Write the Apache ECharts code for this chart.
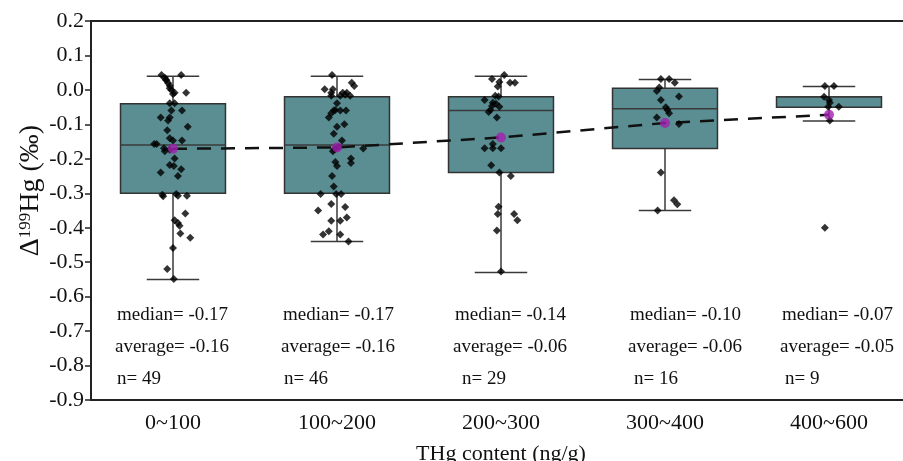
<!DOCTYPE html>
<html>
<head>
<meta charset="utf-8">
<script src="https://cdn.jsdelivr.net/npm/echarts@6/dist/echarts.min.js"></script>
<style>
  html, body { margin: 0; padding: 0; background: #fff; }
  #main { width: 903px; height: 461px; }
</style>
</head>
<body>
<div id="main"></div>
<script>
// THg content classes
const categories = ['0~100', '100~200', '200~300', '300~400', '400~600'];

// box statistics per class
const boxLow = [-0.55, -0.44, -0.53, -0.35, -0.09];
const boxQ1 = [-0.30, -0.30, -0.24, -0.17, -0.05];
const boxMedian = [-0.16, -0.16, -0.06, -0.055, -0.02];
const boxQ3 = [-0.04, -0.02, -0.02, 0.005, -0.02];
const boxHigh = [0.04, 0.04, 0.04, 0.03, 0.01];
const meanValues = [-0.171, -0.167, -0.138, -0.096, -0.072];

// labels under the boxes
const medianText = ['-0.17', '-0.17', '-0.14', '-0.10', '-0.07'];
const averageText = ['-0.16', '-0.16', '-0.06', '-0.06', '-0.05'];
const nText = ['49', '46', '29', '16', '9'];

// samples: [jitter in category units, Δ199Hg]
const samples0 = [[-0.07,0.043],[0.05,0.043],[-0.05,0.035],[-0.04,0.028],[-0.03,0.02],[-0.02,0.012],[-0.02,0.005],[0.01,-0.008],[0.08,-0.008],[0,-0.012],[-0.02,-0.039],[0.01,-0.039],[-0.01,-0.06],[0.055,-0.06],[-0.075,-0.08],[-0.02,-0.08],[-0.03,-0.089],[0.09,-0.107],[-0.035,-0.117],[-0.02,-0.14],[0,-0.147],[0.055,-0.147],[-0.115,-0.157],[-0.1,-0.157],[-0.055,-0.169],[-0.05,-0.178],[-0.02,-0.174],[0.01,-0.199],[-0.02,-0.218],[0.005,-0.221],[0.05,-0.23],[-0.075,-0.24],[0.03,-0.25],[-0.065,-0.304],[-0.06,-0.309],[0.02,-0.302],[0.03,-0.307],[0.085,-0.307],[0.075,-0.359],[0.01,-0.378],[0.03,-0.386],[0.04,-0.394],[0.045,-0.417],[0.105,-0.429],[0,-0.459],[-0.035,-0.52],[0.005,-0.549],[-0.045,0.03],[-0.01,0.0]];
const samples1 = [[-0.03,0.043],[0.09,0.021],[0.105,0.011],[-0.075,0.002],[-0.025,0.002],[-0.035,-0.017],[0.035,-0.008],[0.06,-0.008],[0.05,-0.014],[0.08,-0.017],[0.02,-0.017],[0,-0.039],[0.02,-0.06],[0.055,-0.06],[-0.02,-0.06],[-0.035,-0.068],[-0.05,-0.08],[0.045,-0.1],[0,-0.107],[-0.02,-0.127],[0.03,-0.147],[0.01,-0.166],[-0.015,-0.172],[-0.025,-0.178],[0.16,-0.17],[0.085,-0.199],[0.085,-0.212],[-0.01,-0.209],[0,-0.221],[-0.03,-0.25],[-0.02,-0.28],[-0.1,-0.302],[-0.005,-0.302],[0.025,-0.302],[-0.035,-0.331],[0.05,-0.34],[-0.115,-0.35],[0.06,-0.37],[-0.035,-0.38],[0.02,-0.38],[-0.05,-0.41],[-0.085,-0.42],[0.02,-0.42],[0.07,-0.44],[-0.035,-0.008],[-0.01,-0.058]];
const samples2 = [[0.02,0.043],[-0.055,0.032],[-0.01,0.023],[0.055,0.021],[0.085,0.021],[-0.02,0.01],[-0.035,-0.017],[-0.015,-0.019],[-0.1,-0.029],[-0.05,-0.037],[-0.055,-0.047],[-0.01,-0.049],[-0.065,-0.058],[-0.075,-0.064],[-0.025,-0.08],[-0.05,-0.157],[-0.1,-0.169],[-0.05,-0.169],[0,-0.169],[-0.06,-0.219],[-0.01,-0.24],[0.06,-0.25],[-0.015,-0.339],[-0.02,-0.36],[0.08,-0.36],[0.1,-0.378],[-0.025,-0.408],[0,-0.527],[-0.03,-0.04]];
const samples3 = [[-0.025,0.032],[0.025,0.032],[0.06,0.021],[-0.035,0.007],[-0.05,-0.003],[0.085,-0.019],[-0.025,-0.029],[0.005,-0.05],[0.015,-0.058],[0.025,-0.068],[-0.05,-0.08],[0.085,-0.099],[-0.025,-0.24],[0.055,-0.32],[0.075,-0.332],[-0.045,-0.35]];
const samples4 = [[-0.025,0.011],[0.03,0.011],[-0.03,-0.02],[0,-0.029],[-0.005,-0.049],[0.06,-0.049],[0.005,-0.089],[-0.025,-0.4],[0.005,-0.037]];

const serif = '"Liberation Serif", "DejaVu Serif", serif';

let chart = echarts.init(document.getElementById('main'));

let boxData = categories.map((c, i) => [i, boxLow[i], boxQ1[i], boxMedian[i], boxQ3[i], boxHigh[i]]);

let scatterData = [];
[samples0, samples1, samples2, samples3, samples4].forEach((grp, i) => {
  grp.forEach(p => scatterData.push([i + p[0], p[1]]));
});

function renderBox(params, api) {
  let x = api.value(0);
  let bandW = api.size([1, 0])[0];
  let boxW = bandW * 0.64;
  let capW = boxW * 0.5;
  let pLow = api.coord([x, api.value(1)]);
  let pQ1 = api.coord([x, api.value(2)]);
  let pMed = api.coord([x, api.value(3)]);
  let pQ3 = api.coord([x, api.value(4)]);
  let pHigh = api.coord([x, api.value(5)]);
  let cx = pMed[0];
  let lineStyle = { stroke: '#3a3a3a', lineWidth: 1.5 };
  return {
    type: 'group',
    children: [
      { type: 'line', shape: { x1: cx, y1: pLow[1], x2: cx, y2: pHigh[1] }, style: lineStyle },
      { type: 'line', shape: { x1: cx - capW / 2, y1: pLow[1], x2: cx + capW / 2, y2: pLow[1] }, style: lineStyle },
      { type: 'line', shape: { x1: cx - capW / 2, y1: pHigh[1], x2: cx + capW / 2, y2: pHigh[1] }, style: lineStyle },
      { type: 'rect', shape: { x: cx - boxW / 2, y: pQ3[1], width: boxW, height: pQ1[1] - pQ3[1] },
        style: { fill: '#5a8e93', stroke: '#333', lineWidth: 1.5 } },
      { type: 'line', shape: { x1: cx - boxW / 2, y1: pMed[1], x2: cx + boxW / 2, y2: pMed[1] }, style: lineStyle }
    ]
  };
}

// annotation layout
const colX = [117, 283, 455, 630, 782];
const nX = [117, 284, 462, 634, 785];
const rowY = [313, 345, 377];
let texts = [];
categories.forEach((c, i) => {
  texts.push({ type: 'text', left: colX[i], top: rowY[0] - 7, style: { text: 'median= ' + medianText[i], font: '19px ' + serif, fill: '#111' } });
  texts.push({ type: 'text', left: colX[i] - 2, top: rowY[1] - 7, style: { text: 'average= ' + averageText[i], font: '19px ' + serif, fill: '#111' } });
  texts.push({ type: 'text', left: nX[i], top: rowY[2] - 7, style: { text: 'n= ' + nText[i], font: '19px ' + serif, fill: '#111' } });
});

let option = {
  animation: false,
  backgroundColor: '#fff',
  grid: {
    left: 91, top: 21, width: 820, height: 379,
    outerBoundsMode: 'none',
    containLabel: false,
    show: true, borderColor: '#222', borderWidth: 2
  },
  xAxis: [
    {
      type: 'category',
      data: categories,
      position: 'bottom',
      name: 'THg content (ng/g)',
      nameLocation: 'middle',
      nameGap: 43,
      nameMoveOverlap: false,
      nameTextStyle: { fontFamily: serif, fontSize: 22, color: '#111' },
      axisLine: { onZero: false, lineStyle: { color: '#222', width: 2 } },
      axisTick: { alignWithLabel: true, length: 6, lineStyle: { color: '#222', width: 1.5 } },
      axisLabel: { fontFamily: serif, fontSize: 22, color: '#111', margin: 12 },
      splitLine: { show: false }
    },
    {
      type: 'value',
      min: -0.5,
      max: 4.5,
      show: false,
      axisLine: { onZero: false }
    }
  ],
  yAxis: {
    type: 'value',
    min: -0.9,
    max: 0.2,
    interval: 0.1,
    name: '{d|Δ}{s|199}{d|Hg (‰)}',
    nameLocation: 'middle',
    nameGap: 46,
    nameMoveOverlap: false,
    nameRotate: 90,
    nameTextStyle: {
      fontFamily: serif, fontSize: 28, color: '#111',
      padding: [0, 0, 0, 40],
      rich: {
        d: { fontFamily: serif, fontSize: 28, color: '#111' },
        s: { fontFamily: serif, fontSize: 17, color: '#111', verticalAlign: 'top', padding: [0, 0, 11, 0] }
      }
    },
    axisLine: { show: true, onZero: false, lineStyle: { color: '#222', width: 2 } },
    axisTick: { show: true, inside: false, length: 6, lineStyle: { color: '#222', width: 1.5 } },
    axisLabel: {
      fontFamily: serif, fontSize: 22, color: '#111', margin: 7,
      formatter: v => v.toFixed(1)
    },
    splitLine: { show: false }
  },
  graphic: texts,
  series: [
    {
      type: 'custom',
      xAxisIndex: 0,
      renderItem: renderBox,
      encode: { x: 0, y: [1, 2, 3, 4, 5] },
      data: boxData,
      z: 2
    },
    {
      type: 'line',
      xAxisIndex: 0,
      data: meanValues,
      symbol: 'none',
      lineStyle: { color: '#111', width: 2.5, type: [14, 10] },
      z: 3
    },
    {
      type: 'scatter',
      xAxisIndex: 1,
      data: scatterData,
      symbol: 'diamond',
      symbolSize: 8,
      itemStyle: { color: '#000' },
      z: 4
    },
    {
      type: 'scatter',
      xAxisIndex: 0,
      data: meanValues,
      symbol: 'circle',
      symbolSize: 10,
      itemStyle: { color: '#a21fb0' },
      z: 5
    }
  ]
};
chart.setOption(option);
</script>
</body>
</html>
